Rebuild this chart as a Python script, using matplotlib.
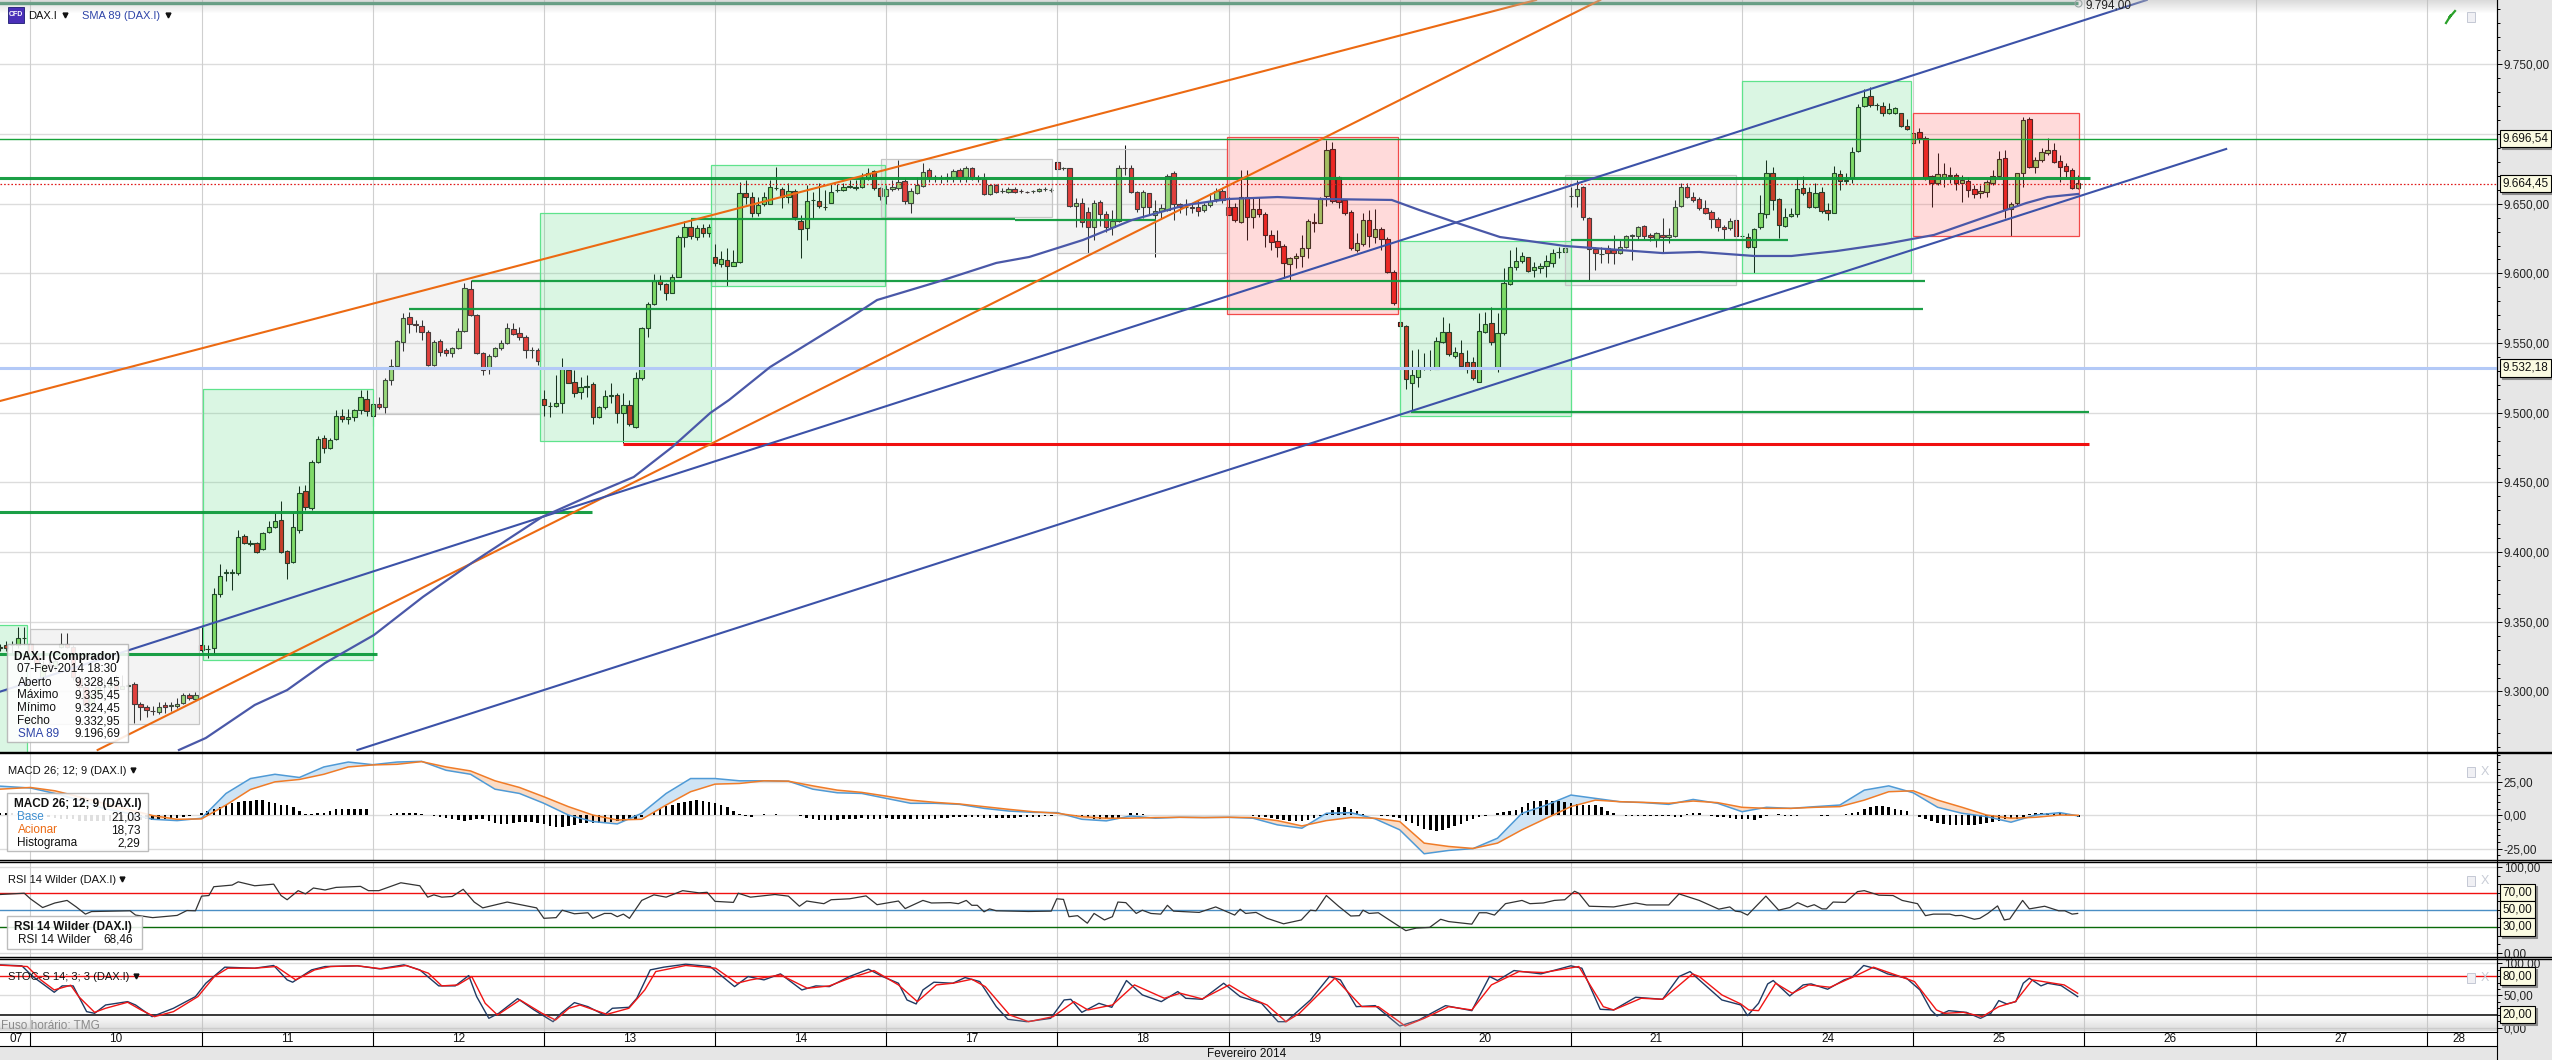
#!/usr/bin/env python3
"""DAX.I 30 min chart with MACD, RSI and stochastic panels."""

import numpy as np
import matplotlib
matplotlib.use("Agg")
import matplotlib.pyplot as plt
from matplotlib.lines import Line2D
from matplotlib.patches import Rectangle

W, H = 2552, 1060
AXIS_X = 2496.7
BAR_PX = 6.113
FIRST_DAY_PX = 30.4

# candles per day: (open, close, high, low)
day_07 = [(9332, 9331, 9334, 9329), (9333, 9331, 9336, 9329), (9333, 9333.5, 9336, 9327), (9333, 9338, 9346, 9331), (9338, 9338.5, 9346, 9333)]
day_10 = [(9334, 9327, 9336.8, 9325), (9327, 9320, 9330, 9318), (9310, 9320, 9322.5, 9308), (9320, 9318, 9323, 9315), (9318, 9322, 9325, 9315),
          (9332, 9334, 9342, 9331), (9334, 9332, 9342, 9331), (9332, 9310.5, 9333, 9308), (9310, 9303, 9311.7, 9301), (9303, 9290, 9304.5, 9289),
          (9290, 9298, 9299.5, 9288), (9298, 9303, 9304, 9296), (9303, 9303.5, 9309, 9298.6), (9303, 9305, 9310.5, 9301), (9305, 9302, 9311.7, 9299.8),
          (9302, 9304, 9311.7, 9303.3), (9304, 9304.5, 9305.7, 9303.8), (9305, 9291, 9307, 9277), (9291, 9288.5, 9292.6, 9279.4), (9288.5, 9286.6, 9290, 9281.8),
          (9286, 9285.8, 9289.5, 9283), (9285.4, 9289, 9292.6, 9283.7), (9290, 9288.5, 9292.6, 9284.2), (9289.7, 9290, 9292.6, 9286), (9289.5, 9291, 9295, 9287.8),
          (9291.5, 9297.4, 9298.6, 9291), (9297.4, 9295, 9298.6, 9293.8), (9294.3, 9297.4, 9299.8, 9293.3)]
day_11 = [(9333.3, 9329.7, 9346, 9328), (9330.4, 9330.4, 9333, 9324), (9331, 9369.7, 9374, 9327), (9369.7, 9383, 9391.4, 9368), (9385, 9385.5, 9388, 9379),
          (9385, 9385.5, 9387.6, 9372.8), (9384.7, 9410.6, 9415.8, 9383.5), (9411.5, 9406.2, 9412.7, 9405.8), (9406, 9406.5, 9408.6, 9404.3), (9406.2, 9400.3, 9407.4, 9399.5),
          (9402, 9413.4, 9414.6, 9401.5), (9414.1, 9418.2, 9422.5, 9413.4), (9418.2, 9422.5, 9427.8, 9417), (9423, 9400.3, 9436.6, 9399.5), (9400.7, 9391.9, 9401.5, 9381),
          (9392.6, 9417.7, 9427.8, 9391.9), (9415.8, 9442.6, 9447.4, 9413.4), (9444, 9432.6, 9448, 9430), (9431.4, 9464.8, 9466, 9430), (9464.4, 9480.9, 9483.3, 9463.6),
          (9481.6, 9474.4, 9484, 9470.8), (9474.4, 9480.4, 9481.6, 9473.7), (9480.9, 9497.9, 9501.9, 9480.4), (9497.9, 9495.2, 9503, 9493.5), (9495.2, 9497.1, 9503, 9491.9),
          (9497.1, 9501.9, 9503, 9494), (9501.9, 9511, 9516.3, 9499), (9510, 9501.4, 9516, 9497.6)]
day_12 = [(9497.6, 9506.2, 9509, 9490.4), (9506.2, 9503.8, 9511.5, 9502.4), (9503.8, 9523.5, 9524.7, 9500), (9523.5, 9533.5, 9538.3, 9520), (9533.5, 9551.7, 9552, 9533),
          (9551, 9567.8, 9571.8, 9544.6), (9568.5, 9563.7, 9572.5, 9557.5), (9563.7, 9563, 9566.6, 9558), (9562.5, 9557.7, 9566.6, 9552.2), (9557.7, 9534.3, 9559.4, 9533.5),
          (9534.3, 9551, 9552.2, 9533.8), (9551.5, 9543.8, 9552.7, 9540.7), (9545, 9543, 9546.2, 9540.7), (9543, 9546.2, 9547.4, 9540.2), (9546.2, 9558.4, 9560.6, 9545.5),
          (9558.9, 9589.3, 9593.4, 9558.2), (9588.6, 9570.2, 9595.3, 9569.4), (9570.2, 9542.6, 9570.9, 9542.2), (9543, 9530.7, 9543.8, 9527), (9531.4, 9541, 9542.2, 9527.8),
          (9541, 9546.2, 9547.4, 9540.2), (9546.2, 9549.8, 9552.2, 9545), (9549.8, 9560.6, 9564.7, 9549.3), (9560.1, 9556.3, 9564.2, 9555.8), (9557, 9554.6, 9561.8, 9552.2),
          (9554.6, 9545, 9555.8, 9539), (9545, 9545.3, 9547.4, 9539), (9545, 9537.4, 9546.2, 9534.3)]
day_13 = [(9510, 9505.5, 9516, 9498), (9505, 9505, 9508, 9496.7), (9504.8, 9507.2, 9527, 9504.3), (9507, 9531.2, 9539, 9500), (9530.7, 9521.6, 9532, 9521),
          (9522.3, 9514.5, 9530.7, 9511.5), (9515.2, 9518.2, 9526, 9510), (9518.6, 9519, 9527, 9511.5), (9520.4, 9497.1, 9522.3, 9491.9), (9497.1, 9503.8, 9505, 9496),
          (9503.8, 9512, 9516.3, 9502.4), (9512.3, 9512.5, 9521, 9506.7), (9512.8, 9499.5, 9514, 9492.8), (9500, 9505.5, 9514.4, 9478), (9505.5, 9491.9, 9509, 9490.4),
          (9490, 9524.7, 9529.5, 9488.8), (9524.7, 9560.6, 9561.8, 9523.5), (9560.6, 9577.8, 9579.7, 9554.6), (9577.8, 9594.8, 9599.6, 9577.4), (9595.3, 9592.2, 9598.9, 9588.2),
          (9592.2, 9586.2, 9593, 9581), (9586.2, 9597.2, 9599.6, 9585.7), (9597.7, 9626, 9627.6, 9597.2), (9626, 9633, 9637.8, 9619), (9633, 9626.9, 9638.8, 9624.5),
          (9626.4, 9632.4, 9634.7, 9624), (9632.4, 9628.8, 9635.5, 9626), (9628.8, 9633.6, 9635.5, 9626)]
day_14 = [(9612, 9607.7, 9621, 9605), (9607, 9610, 9616.3, 9604.3), (9609.6, 9605.6, 9618, 9591), (9605.6, 9608, 9617, 9605.5), (9608.4, 9658, 9665.3, 9607.2),
          (9658, 9655, 9667, 9650), (9655, 9643, 9658.7, 9640.7), (9643, 9649, 9655, 9641), (9650, 9655, 9658.7, 9648.4), (9650, 9661.8, 9667, 9649.8),
          (9661.5, 9661.5, 9676.6, 9660), (9660.3, 9655, 9662, 9646.7), (9655, 9659.4, 9664.6, 9650.3), (9659.4, 9640.2, 9660.3, 9638.3), (9637.6, 9631.6, 9642, 9610.8),
          (9632.4, 9651.7, 9663.4, 9624), (9652.7, 9652.7, 9658.7, 9639.5), (9652.2, 9648.6, 9664.6, 9646.7), (9648, 9647.5, 9659.9, 9645.5), (9650.8, 9658.7, 9664, 9650.3),
          (9659.6, 9660, 9664, 9658.7), (9660, 9661.8, 9665, 9659.4), (9661.8, 9662.8, 9667, 9661), (9661.6, 9661.7, 9667, 9659.8), (9662.3, 9668.3, 9672, 9661),
          (9668.3, 9672.3, 9675.4, 9667), (9673.5, 9661, 9674.3, 9660), (9661, 9655.6, 9661.7, 9652.7)]
day_17 = [(9655.3, 9660.3, 9663.4, 9650), (9660.3, 9661.7, 9667, 9659.3), (9661, 9665.8, 9681.3, 9659.8), (9666.3, 9652.2, 9668.2, 9649.8), (9650.2, 9659.3, 9661, 9643),
          (9657.9, 9663.2, 9669.4, 9657), (9662.7, 9673, 9679, 9661.7), (9674.2, 9668.9, 9675.4, 9665.8), (9669, 9669, 9670.6, 9665.8), (9668.8, 9668.7, 9670.6, 9664.6),
          (9668.8, 9669.2, 9672.3, 9665.8), (9669.4, 9673.4, 9674.6, 9665.8), (9674.2, 9669.4, 9675.4, 9665.8), (9668.9, 9675.8, 9677, 9665.8), (9675.4, 9668.9, 9676.6, 9667),
          (9668.2, 9668, 9670.6, 9665.8), (9667.5, 9657, 9671.8, 9656.2), (9657, 9663.2, 9664.1, 9656.2), (9663.2, 9658.6, 9664.1, 9657.9), (9659.3, 9659.3, 9661, 9657.4),
          (9658.6, 9660.3, 9661.7, 9657.9), (9660.3, 9658.6, 9661.7, 9657.4), (9659.1, 9659, 9660.3, 9657.9), (9658.7, 9658.6, 9659.3, 9657.9), (9658.8, 9658.9, 9659.8, 9657.9),
          (9658.9, 9660.3, 9661, 9658.4), (9660.3, 9660.4, 9661.7, 9659.3), (9659.6, 9659.6, 9661, 9658.4)]
day_18 = [(9679.7, 9674.9, 9680.1, 9674.2), (9675.4, 9675.4, 9676.6, 9674.2), (9675.4, 9648.6, 9675.8, 9647.9), (9648.6, 9650.2, 9653.8, 9633.5), (9650.2, 9637.1, 9653.8, 9633),
          (9643.8, 9633.5, 9647.9, 9614.8), (9633.5, 9650.2, 9652.6, 9623.9), (9651.2, 9642.6, 9652.6, 9634), (9642.6, 9633.5, 9645, 9629.9), (9633.5, 9637.8, 9645.5, 9627.5),
          (9637.8, 9675.4, 9677.8, 9637.1), (9675.9, 9675.5, 9692, 9670.6), (9675.4, 9658.6, 9677.8, 9657.4), (9658.1, 9646.2, 9659.3, 9644.3), (9647.4, 9658.1, 9659.8, 9639.5),
          (9657.4, 9647.4, 9657.9, 9641.9), (9641.9, 9645, 9652.6, 9611.5), (9645, 9647, 9650, 9640), (9645.5, 9669.9, 9671.3, 9645), (9671.8, 9649.8, 9673.4, 9638.3),
          (9649.8, 9647.4, 9650.7, 9643), (9647.9, 9647.9, 9653.1, 9641.9), (9647.4, 9647, 9650.2, 9643), (9647.4, 9645, 9652.6, 9641.2), (9645.5, 9648.8, 9650.2, 9644.3),
          (9648.8, 9652.2, 9657.4, 9647.4), (9653.1, 9659.3, 9661, 9651.4), (9659.1, 9652.6, 9661, 9650.2)]
day_19 = [(9647.9, 9641.9, 9655, 9641.9), (9647.4, 9638.3, 9650.2, 9637.1), (9637.1, 9655, 9674, 9635.9), (9655, 9640.7, 9674, 9624), (9640.7, 9646, 9655, 9632.3),
          (9646, 9642.4, 9655, 9640.2), (9642.4, 9627.5, 9644.3, 9619), (9627.5, 9622.8, 9631.1, 9616.8), (9623.2, 9619.1, 9631.1, 9612), (9620, 9607.7, 9621, 9596.4),
          (9606.7, 9610.8, 9612, 9595), (9610.8, 9612.5, 9614.4, 9603.6), (9612.7, 9617.9, 9627.5, 9604.8), (9617.9, 9637.8, 9638.8, 9610.8), (9637.1, 9635.9, 9643, 9629.9),
          (9636.4, 9654.3, 9655, 9635.9), (9655.7, 9688.3, 9696, 9648.3), (9689, 9651.9, 9694.5, 9650.2), (9668.9, 9651.4, 9669.9, 9646.7), (9652.6, 9643, 9653.6, 9641.9),
          (9643.8, 9617.9, 9645.5, 9616.8), (9616.8, 9621.5, 9628.7, 9615.6), (9621, 9638.3, 9643, 9619.6), (9638.3, 9627, 9645.5, 9619.1), (9626.3, 9631.6, 9646, 9621.5),
          (9631.6, 9624.4, 9633.5, 9616.8), (9624.4, 9601.2, 9626.3, 9600.5), (9601.2, 9579, 9602.4, 9577.3)]
day_20 = [(9565, 9562.5, 9566, 9561.7), (9562.5, 9524, 9562.9, 9516.8), (9521.6, 9527, 9545, 9502), (9525.9, 9533, 9545.5, 9518.7), (9531.8, 9532, 9542.6, 9530.7),
          (9532, 9531.8, 9545, 9530.7), (9531.6, 9551.7, 9554.6, 9531.1), (9551, 9558.2, 9568.9, 9549.8), (9558.2, 9541.9, 9564.1, 9540.7), (9540.7, 9543.3, 9547.4, 9539),
          (9542.6, 9533.8, 9552.2, 9531.8), (9536.6, 9531.1, 9545, 9528.3), (9536.6, 9524.7, 9540.2, 9523.5), (9522.3, 9558.9, 9571.3, 9522.3), (9558.2, 9563.7, 9572.5, 9557),
          (9564.1, 9551, 9576, 9548.6), (9533, 9557, 9571.3, 9529.4), (9557, 9592.8, 9603.6, 9555.8), (9592.4, 9604.3, 9616.8, 9591.6), (9604.3, 9609.1, 9619.1, 9602.4),
          (9609.1, 9612.5, 9615.6, 9607.2), (9611.5, 9601.9, 9612, 9601.2), (9602.4, 9604.3, 9608.4, 9597.6), (9603.6, 9605.5, 9607.2, 9600), (9605.5, 9608.6, 9613.2, 9597.6),
          (9607.7, 9614.8, 9617.2, 9604.8), (9615.6, 9615.6, 9619.1, 9610.8), (9615.6, 9618, 9623.9, 9614.4)]
day_21 = [(9655.5, 9655.5, 9662.2, 9647.4), (9655.5, 9660.3, 9667, 9647.9), (9661.7, 9640.7, 9662.7, 9638.3), (9639.5, 9617.2, 9640.7, 9595), (9617.2, 9614.4, 9619.1, 9602.4),
          (9614.2, 9614.2, 9618.7, 9607.2), (9618, 9614.8, 9620.3, 9607.2), (9616.8, 9614.8, 9627.5, 9606.7), (9614.4, 9619.2, 9623.9, 9613.9), (9619.2, 9626.8, 9627.5, 9618),
          (9626.8, 9627.5, 9628, 9609.6), (9626.8, 9633.5, 9634, 9623.9), (9634, 9626.8, 9634.7, 9624.4), (9627.5, 9625.8, 9628.7, 9623.4), (9625, 9628.7, 9629.9, 9619.1),
          (9627.5, 9625.8, 9639.5, 9615.6), (9625.8, 9627.5, 9632.3, 9622), (9627, 9647.9, 9652.6, 9626.3), (9648.3, 9661.7, 9664.6, 9647.4), (9661.7, 9655, 9664.6, 9653.8),
          (9655, 9652.6, 9658.6, 9651.4), (9653.1, 9646.7, 9655, 9645.5), (9646.7, 9643.6, 9652.7, 9642.6), (9644, 9638.8, 9645.5, 9632.3), (9638.8, 9633.5, 9640.7, 9630.7),
          (9633, 9631.6, 9634.7, 9624.5), (9632.4, 9637.6, 9639.5, 9631.2), (9638.3, 9626.8, 9639.5, 9625.2)]
day_24 = [(9626.8, 9626.8, 9628, 9625.9), (9625.9, 9619.2, 9628.8, 9618), (9619.2, 9631.6, 9632.3, 9600.5), (9633, 9643, 9656, 9631.6), (9642.4, 9671.8, 9681.4, 9639.5),
          (9671.8, 9652.7, 9676.6, 9645.5), (9653.2, 9634.7, 9653.9, 9625.2), (9634, 9640.7, 9646.7, 9633.5), (9641.2, 9642.6, 9646.7, 9640.2), (9642.6, 9660.3, 9668.2, 9640.7),
          (9661, 9657.9, 9669.9, 9656.3), (9658.2, 9647.4, 9662.2, 9646.7), (9647.4, 9657.4, 9664.6, 9646.7), (9658.2, 9645, 9662.2, 9643), (9645.5, 9643.6, 9650.3, 9638.3),
          (9643.6, 9671.8, 9677.1, 9643), (9671.3, 9666.6, 9674.2, 9659.9), (9666.6, 9667, 9672, 9664), (9668.2, 9687.4, 9691, 9665.1), (9688, 9719.2, 9721.6, 9687.4),
          (9720.1, 9726.8, 9732, 9719.7), (9727.5, 9720.9, 9733.5, 9719.7), (9720.9, 9720.5, 9722.5, 9717.3), (9720.4, 9714.9, 9723.2, 9713), (9714.9, 9717.7, 9722.5, 9714.4),
          (9715.3, 9718.5, 9719.2, 9714.4), (9714.9, 9706, 9715.4, 9705.3), (9705.8, 9703.6, 9710.6, 9702.9)]
day_25 = [(9693.3, 9701, 9710, 9692.6), (9701.2, 9697.4, 9704.1, 9693.3), (9696.9, 9668.2, 9698.6, 9667), (9669.9, 9665, 9670.6, 9648), (9665.1, 9671.3, 9686.2, 9663.4),
          (9669.5, 9671, 9679, 9662.2), (9670, 9670.5, 9676.6, 9664.6), (9670.6, 9665, 9671.8, 9659.9), (9664.6, 9667, 9670.6, 9651.5), (9666.3, 9659.9, 9669.4, 9655.1),
          (9660.6, 9657, 9663.4, 9653.9), (9657.5, 9659.1, 9663.4, 9653.9), (9658.7, 9665.8, 9667, 9655.1), (9664.6, 9670.1, 9674.2, 9663.4), (9670.1, 9681.9, 9688.1, 9669.4),
          (9682.6, 9646, 9688.6, 9639.5), (9646, 9649.8, 9651.5, 9626.8), (9650.3, 9671.8, 9672.3, 9649.1), (9672.3, 9710.1, 9712, 9662.3), (9710.6, 9676.6, 9712, 9675.4),
          (9676.6, 9681.4, 9683.8, 9671.8), (9681.4, 9686.9, 9689.8, 9680.2), (9686.2, 9688.6, 9697, 9685), (9688.6, 9680.2, 9693.3, 9679.5), (9680.4, 9676.6, 9685, 9665.8),
          (9677, 9673.7, 9679, 9669.4), (9674.2, 9661.5, 9675.4, 9660.3), (9661.5, 9664.6, 9670.6, 9660.3)]

# SMA 89 read at bar numbers
sma_bars = [24.3, 28.7, 36.7, 42, 48.2, 56.2, 64.2, 72.2, 83.7, 92.5, 98.7, 105, 111.2, 114.3, 121, 134, 138.5, 148.3, 158, 163.4, 172.2, 180.2, 189, 196, 204, 211.1, 222.7, 227.2, 233.4, 240.4, 251, 260, 267, 273, 282, 288.1, 295.4, 303.4, 311.4, 319.4, 326.5, 330, 335]
sma_vals = [9258, 9266.6, 9290.3, 9301, 9320.4, 9340.5, 9367.8, 9392.2, 9425.2, 9442.4, 9453.9, 9475.4, 9499.8, 9509.2, 9532.8, 9568, 9580.9, 9593.8, 9607.5, 9611.8, 9624, 9638.3, 9649.1, 9653.4, 9654.8, 9653.4, 9652.7, 9645.5, 9636.2, 9626.1, 9619.7, 9616.8, 9614.6, 9615.4, 9612.5, 9612.5, 9616, 9621.1, 9627.6, 9639.8, 9650.5, 9654.8, 9657]

# horizontal levels: price, first bar, last bar
green_thick = [(9668.2, -6, 337), (9428.5, -6, 91.9), (9326.6, -6, 56.7)]
green_mid = [(9639, 108, 161), (9638, 161, 184.1), (9594.8, 72.2, 310), (9574.4, 62, 309.6), (9624, 252, 287.6), (9500.5, 225.8, 336.7)]
red_level = (9477.3, 97, 336.7)
top_level = (9794, -6, 335)
last_bid = 9664.45
green_thin = 9696.54
blue_level = 9532.18

# trend lines: (bar, price) at both ends
orange_lines = [((-5, 9508.4), (246.3, 9796.2)), ((11, 9258), (256.8, 9796.2))]
blue_lines = [((-5, 9299.8), (346.2, 9796.2)), ((53.5, 9258), (359.2, 9689.3))]

# boxes: first bar, last bar, price low, price high
green_boxes = [(-6, -0.6, 9250, 9347.4), (28.3, 56.1, 9322.3, 9516.8), (83.3, 111.3, 9480, 9643), (111.3, 139.8, 9591, 9677.8), (224, 252, 9498, 9623), (280, 307.7, 9600, 9737.8)]
grey_boxes = [(-0.1, 27.65, 9276.4, 9344.5), (56.5, 83.3, 9499, 9600), (139.2, 167.2, 9640.2, 9681.8), (168, 195.7, 9614.4, 9689), (251, 279, 9592, 9670.3)]
red_boxes = [(195.8, 223.8, 9570.6, 9697.6), (308, 335.1, 9626.6, 9714.9)]

macd_bars = [-5, 0, 4, 8, 12, 16, 20, 24, 28, 32, 36, 40, 44, 48, 52, 56, 60, 64, 68, 72, 76, 80, 84, 88, 92, 96, 100, 104, 108, 112, 116, 120, 124, 128, 132, 136, 140, 144, 148, 152, 156, 160, 164, 168, 172, 176, 180, 184, 188, 192, 196, 200, 204, 208, 212, 216, 220, 224, 228, 232, 236, 240, 244, 248, 252, 256, 260, 264, 268, 272, 276, 280, 284, 288, 292, 296, 300, 304, 308, 312, 316, 320, 324, 328, 332, 335]
macd_base = [21.9, 20.5, 16.4, 11.4, 5.2, 1.5, -3, -4, -2.2, 16.4, 27.6, 30.8, 28.4, 36.3, 40, 38, 40, 40.5, 33.8, 30.8, 19.6, 16.4, 9, 0.2, -4.7, -6.5, 1.5, 16.4, 27.6, 27.6, 25.9, 25.9, 25.6, 19.6, 16.9, 16.4, 12.7, 9, 9, 8.2, 5.2, 3.2, 2.2, 2, -3, -4.2, -0.5, -2.2, -1.5, -1.7, -1.5, -2.2, -7.2, -9.7, 1.5, 2, -2.7, -10.9, -28.9, -26.4, -25, -17.2, 1.5, 7.7, 15.2, 12.7, 10.2, 9.5, 8.2, 11.9, 9, 2.7, 6, 5.2, 6.5, 7.7, 18.9, 22.1, 16.9, 6, 1.5, -1, -5.2, 0.2, 2, -0.5]
macd_signal = [19.6, 20.9, 18.4, 13.9, 9, 4.5, -0.2, -3, -2.7, 7.7, 19.4, 25.1, 26.9, 30.8, 36.3, 37.8, 38.3, 40.3, 36.3, 33.3, 25.9, 20.9, 13.9, 6.5, 0.2, -3.5, -3, 7.7, 17.7, 23.4, 23.9, 25.9, 25.6, 22.1, 18.9, 17.2, 14.4, 11.4, 9.7, 8.5, 6.5, 4.5, 2.7, 1.5, -1, -2.2, -2.2, -1.7, -1.5, -1.7, -1.5, -1.7, -4, -8, -4, -1.7, -2.2, -4.7, -20.9, -23.4, -24.9, -20.9, -10.9, -2.2, 6.5, 11.4, 10.2, 9.7, 9, 10.7, 9.5, 6, 5.2, 5.2, 6, 6.5, 11.4, 17.7, 18.4, 11.4, 6, 0.2, -2.2, -1.5, 0.2, 0]
macd_hist = [2, 2, 2, 1.5, 2,
             1, 0.5, 0, -1, -2, -3, -3, -3, -4, -4, -4, -4, -4.5, -4.5, -4.5, -4, -4, -4, -3.5, -3, -3.5, -3.5, -3, -2.5, -2, -1, -0.5, 0.5,
             2, 3, 5, 6, 8, 9, 10, 10.5, 11, 11.5, 11.5, 10, 9, 8, 7.5, 6, 3, 1, 1, 1.5, 2, 3, 4.5, 5, 5, 5, 5, 4.5,
             0, 0.3, 0.5, 1, 1.5, 2, 2, 1.5, 1, 0.5, -0.5, -1, -2, -3, -3.5, -4, -3.5, -3, -3, -4.5, -5.5, -6.5, -6.5, -6, -5, -5, -5, -5.5,
             -6.5, -8, -9, -9, -8, -7, -6, -6, -5.5, -5.5, -5, -5, -4.5, -4, -3.5, -3, -1.5, 0.5, 2.5, 5, 7, 8, 9, 10, 11, 11.5, 10.5, 10,
             9, 8, 6, 3, 1, -0.5, -1, 0, 1, 0.5, 1, 0.5, 0.5, 0, -0.5, -2, -3, -3.5, -3.5, -3.5, -3.5, -3, -2.5, -2.5, -2, -2.5, -2.5, -2.5,
             -2, -2.5, -2.5, -3, -3, -3, -3, -2.5, -2.5, -2, -2, -1.5, -1.5, -1.5, -1, -1.5, -2, -2, -2, -2, -2, -2, -1.5, -1.5, -1, -1, -0.5, -0.5,
             0, 0.5, 0.5, -0.5, -1, -1.5, -2.5, -3, -3, -3, -3, 0, 1.5, 1.5, 1, 0.5, 0, 0.5, 0.5, 0, 0, 0, 0, 0, 0, 0, 0.5, 0.5,
             0, 0, 0.5, 0, -0.5, -1, -1.5, -2, -3, -3.5, -4, -4, -4, -3.5, -2, -0.5, 1, 4, 6, 6, 4.5, 3.5, 1, 0.5, 0, -0.5, -0.5, -1,
             -2, -4, -6, -8, -10.5, -11, -12, -11, -9.5, -8, -6.5, -4.5, -3, -1.5, -0.5, 0.5, 1.5, 2.5, 3.5, 4, 6, 9.5, 10.5, 11, 11.5, 11, 10.5, 10,
             9.5, 8.5, 8, 8, 8, 6, 3, 1.5, 0.5, -0.5, -0.7, -0.7, -0.7, -0.7, -0.7, -0.7, -0.7, -1, -1, 1, 1.5, 1.5, 0, -0.5, -1.5, -1.5, -2, -2.5,
             -2.5, -3, -3.5, -2, -0.5, 0.5, 1, -0.5, -0.5, -0.5, 0, 0.5, 0, -0.5, -0.5, 0, 0.5, 1, 1.5, 2.5, 5, 6, 7, 7, 6, 5, 4, 3,
             0.5, -1, -2.5, -4, -6, -6.5, -7, -7, -7, -7, -7, -6.5, -6, -5, -4, -3, -2, -3, -1, 1, 1.5, 1.5, 1.5, 1.5, 1.5, 1, 0.5, -1]

rsi_bars = [-5, -1, 0, 2, 4, 6, 7.5, 9, 10, 16.3, 17.2, 20, 24, 25.6, 27, 28, 29.2, 30, 33, 34, 36.7, 39.8, 41, 42, 43.8, 45, 46.3, 48.2, 50, 54, 55.3, 57, 60.6, 63.7, 65, 66, 67.3, 69, 70.8, 72.6, 74, 78, 82.8, 84, 86, 87, 89, 91.2, 92, 93.9, 95, 96, 97, 98, 100, 102, 104, 106.7, 109.4, 110.7, 112, 115, 115.8, 117.8, 121.8, 124, 125.8, 127, 129.8, 131, 134,
            136.7, 138.5, 142, 143.1, 146, 147.4, 150.5, 151.8, 153.1, 154, 154.9, 156, 156.9, 158, 163.3, 167, 167.9, 169, 169.9, 171.3, 172.9, 174, 175.7, 177, 177.9, 179.2, 180.9, 181.9, 183.3, 184.9, 186, 187, 191.2, 193.9, 197, 197.9, 198.8, 200.5, 202.3, 205, 207.9, 209.4, 210.3, 212, 214, 216, 217.4, 218, 219, 220.5, 222.7, 225, 226.7, 228.9, 230.7, 232, 235.8, 237, 238.2, 239.5, 241.3, 244, 245.3, 247.5, 249.3, 251, 252.6, 253.3, 255, 259, 262.6, 264.4, 268, 269.7, 273,
            276.2, 278, 278.9, 279.8, 280.9, 283.9, 286, 287.8, 289.1, 290.7, 291.8, 293.1, 293.8, 294.9, 296.9, 298.9, 300, 302.4, 304.7, 306.2, 308.7, 310, 311.3, 314, 314.9, 315.9, 318, 318.9, 320.2, 321.8, 322.9, 323.8, 325.9, 327, 329.5, 331.8, 332.8, 334, 334.9]
rsi_vals = [67.9, 69.4, 62.9, 52.7, 58, 61, 53.4, 45, 48, 48.9, 43.9, 40.9, 43.5, 49.2, 48.9, 66, 66.7, 77, 78.9, 82.7, 78.1, 80, 66.7, 61.8, 72.4, 68.6, 75.5, 73.2, 76.2, 77.4, 72.4, 72.4, 81.6, 78.1, 64.8, 67.5, 64.8, 65.6, 74, 59.1, 52.3, 59.1, 52.3, 40.1, 40.9, 49.6, 45.4, 46.6, 40.1, 45.8, 45.8, 42, 45, 40.1, 61, 67.5, 64.8, 72.4, 69.8, 70.5, 59.9, 58.7, 69.4, 64.8, 67.9, 66, 54.2, 60.3, 57.2, 61.8, 62.9,
            66.3, 56, 60.3, 51.5, 61, 58, 58.4, 57.2, 61, 55.3, 55.3, 47.7, 51.1, 48.9, 48.1, 48.5, 62.9, 62.2, 42, 43.2, 34.4, 45.8, 38.2, 42, 59.1, 58.4, 45.8, 49.6, 45.8, 45, 55.3, 48.5, 47, 53.4, 43.9, 50.8, 45.8, 47, 40.1, 33.7, 38.2, 49.6, 48.9, 66.7, 54.2, 42.8, 43.2, 49.6, 45.8, 46.6, 36.3, 25.7, 28.7, 29.5, 39, 36.3, 33.3, 46.6, 46.6, 43.9, 57.2, 61, 57.2, 58, 61, 61.8, 71.7, 69.4, 54.2, 53.4, 58, 55.7, 55.7, 68.6, 61,
            50.8, 53.4, 48.5, 47.7, 43.9, 66, 49.6, 52.7, 58.4, 53.4, 56, 51.1, 51.1, 59.1, 58.7, 71.3, 72.4, 67.1, 66.7, 61, 57.2, 43.2, 45, 45, 43.2, 43.5, 39, 40.1, 45.8, 54.6, 38.2, 39.4, 61, 51.1, 54.2, 48.9, 48.9, 45, 45.8]

stoch_k_bars = [-5, -1.4, 0.4, 3.9, 5.2, 7, 9.2, 10.5, 12.3, 15.9, 17.2, 19.9, 23.4, 27, 28.7, 31.8, 36.7, 39.8, 42, 42.9, 46, 48.2, 53.5, 57.1, 61.1, 63.7, 66.8, 69.5, 71.7, 73, 75, 76.6, 79.7, 82.4, 85.5, 86.8, 89, 91.2, 93.9, 95.2, 97.9, 99.2, 101.4, 103.6, 107.2, 111.2, 115.2, 117.4, 120, 122.7, 126.2, 128.5, 130.7, 134,
                137.1, 139.4, 142, 143.4, 144.9, 146, 147.8, 150.9, 152.9, 155.3, 158, 159.9, 163, 166.9, 169.1, 170.2, 172, 174.8, 176.9, 179.3, 181.9, 185, 187.7, 189, 191.7, 195.2, 197.9, 201.4, 204.1, 205.4, 209.4, 212.5, 214.3, 216.9, 220, 224, 227.1, 231.5, 235.8, 238.7, 240, 242.7, 247.1, 252, 253.8, 256.8, 259, 262.6, 267, 269.7, 271.5, 273,
                276.7, 279.8, 280.9, 282.7, 284.2, 285.1, 287.8, 290, 291.3, 294, 296.7, 298, 299.9, 302, 303.8, 306.9, 309.1, 310.9, 311.9, 313.8, 316.7, 319, 320.7, 322, 323.3, 324.8, 326, 327, 328.9, 330, 332.2, 334.9]
stoch_k_vals = [97.4, 95.9, 79.3, 54.9, 64.8, 64.8, 24.9, 22.3, 35.2, 40.4, 35.2, 17.1, 30.1, 48.2, 68.9, 93.8, 92.2, 96.4, 74.1, 70.5, 89.6, 94.8, 95.9, 91.2, 97.4, 89.6, 64.8, 64.8, 80.8, 48.2, 14.5, 22.3, 45.1, 27.5, 9.3, 22.3, 38.9, 32.6, 19.7, 30.1, 31.6, 45.6, 89.6, 93.8, 98.4, 94.8, 63.7, 79.3, 74.1, 83.4, 58.5, 64.8, 63.7, 79.3,
                90.7, 79.3, 68.9, 43, 36.8, 58.5, 70.5, 68.9, 77.7, 71.5, 32.6, 13, 9.3, 14.5, 43, 44, 23.8, 37.8, 31.6, 73.1, 50.8, 40.4, 56, 45.6, 44, 68.9, 48.2, 37.8, 9.3, 9.3, 43, 79.3, 74.1, 32.6, 34.2, 2.6, 11.9, 34.2, 26.4, 79.3, 73.1, 88.6, 83.4, 95.9, 92.2, 28.5, 27.5, 47.2, 44, 79.3, 87, 74.1,
                43, 35.2, 18.7, 37.8, 67.9, 73.1, 49.2, 66.3, 67.9, 59.6, 74.1, 78.2, 96.4, 91.2, 83.4, 76.7, 58.5, 27.5, 18.1, 26.4, 23.8, 14.5, 22.3, 42, 36.8, 40.4, 68.9, 76.7, 64.8, 68.9, 65.3, 48.2]

stoch_d_bars = [-5, -0.5, 1.7, 3.9, 6.6, 7.9, 10.5, 12.3, 15.9, 18.1, 20.3, 23.4, 27.4, 30.1, 32.3, 36.7, 40.2, 43.4, 46.5, 49.1, 53.5, 57.5, 61.5, 65.1, 67.3, 69.9, 72.2, 74.4, 76.4, 80.1, 83.7, 85.9, 88.1, 89.9, 94.3, 97.9, 100.5, 102.3, 107.2, 112.1, 115.6, 117.8, 122.7, 127.1, 130.7, 134,
                138, 142, 145.1, 148.2, 150.9, 154, 156.2, 160.2, 163.3, 167.3, 170.7, 173, 177, 180.6, 185.5, 188.1, 191.7, 196.1, 199.7, 202.3, 205.4, 207.6, 213.4, 217.8, 220.5, 224.9, 228, 232, 235.8, 239, 243.5, 247.5, 253.3, 257.3, 259, 263.5, 267, 271.9, 273,
                276.7, 279.8, 281.1, 282.7, 285.5, 288.2, 290.9, 294.4, 298.9, 301.5, 305.1, 308.2, 311.8, 313.1, 316.2, 319.3, 322, 324.7, 327.5, 332.7, 334.9]
stoch_d_vals = [96.9, 94.8, 74.1, 58.5, 65.8, 48.2, 23.8, 30.1, 39.4, 27.5, 17.1, 24.9, 48.2, 79.3, 92.2, 92.2, 94.8, 74.1, 89.6, 94.8, 95.9, 91.2, 96.4, 84.5, 64.8, 66.3, 79.3, 37.8, 19.7, 43, 22.3, 11.9, 30.1, 35.2, 20.7, 30.1, 58.5, 87, 96.4, 92.2, 68.9, 74.1, 81.9, 61.1, 64.8, 76.7,
                88.6, 66.3, 40.4, 66.3, 68.9, 75.1, 63.7, 19.7, 9.3, 17.1, 40.4, 27.5, 35.2, 66.3, 45.6, 53.4, 44.6, 66.3, 45.6, 35.2, 9.3, 22.3, 76.7, 32.6, 32.6, 2.6, 14.5, 32.6, 27.5, 66.3, 87, 85.5, 94.8, 32.6, 27.5, 45.6, 44, 83.4, 79.3,
                50.8, 36.8, 27.5, 26.4, 68.9, 53.4, 66.3, 62.7, 81.9, 93.8, 81.9, 71.5, 27.5, 22.3, 23.8, 17.1, 32.6, 40.4, 74.1, 66.3, 53.4]

price_ticks = [9300, 9350, 9400, 9450, 9500, 9550, 9600, 9650, 9700, 9750]
# the 9.700,00 label sits under the 9.696,54 tag in the reference
price_labels = ["9.300,00", "9.350,00", "9.400,00", "9.450,00", "9.500,00", "9.550,00", "9.600,00", "9.650,00", "", "9.750,00"]
date_labels = ["07", "10", "11", "12", "13", "14", "17", "18", "19", "20", "21", "24", "25", "26", "27", "28"]
date_label_bars = [-2.4, 14, 42, 70, 98, 126, 154, 182, 210, 238, 266, 294, 322, 350, 378, 397.3]
day_starts = np.arange(0, 15) * 28

GREEN = "#0e9a3c"
GRID_H = "#dcdcdc"
GRID_V = "#cfcfcf"

plt.rcParams["font.family"] = ["Liberation Sans", "DejaVu Sans"]
plt.rcParams["font.size"] = 8.5

candles = np.array(day_07 + day_10 + day_11 + day_12 + day_13 + day_14 + day_17 + day_18 + day_19 + day_20 + day_21 + day_24 + day_25)
opens, closes, highs, lows = candles.T
bars = np.arange(len(candles)) - 5
assert len(macd_hist) == len(candles)


def px_axes(fig, top, bottom, right=AXIS_X):
    return fig.add_axes([0, 1 - bottom / H, right / W, (bottom - top) / H])


def style_panel(ax, ylim, ticks, labels, grid, minor_step):
    ax.set_xlim(-FIRST_DAY_PX / BAR_PX, (AXIS_X - FIRST_DAY_PX) / BAR_PX)
    ax.set_ylim(*ylim)
    for name in ("top", "left", "bottom"):
        ax.spines[name].set_visible(False)
    ax.spines["right"].set_color("black")
    ax.spines["right"].set_linewidth(0.8)
    ax.yaxis.tick_right()
    ax.set_yticks(ticks)
    ax.set_yticklabels(labels, fontsize=8.5, color="#222222")
    ax.set_yticks(np.arange(np.ceil(ylim[0] / minor_step) * minor_step, ylim[1], minor_step), minor=True)
    ax.tick_params(axis="y", which="major", length=3.6, width=0.7, pad=1.5)
    ax.tick_params(axis="y", which="minor", length=2, width=0.7)
    ax.set_xticks([])
    for g in grid:
        ax.axhline(g, color=GRID_H, lw=1.0, zorder=1)
    for d in day_starts:
        ax.axvline(d, color=GRID_V, lw=0.8, zorder=1)


def tag(ax, val, text):
    for off, tc, fc, ec, z in (((8, -2), "#8c8c8c", "#8c8c8c", "#8c8c8c", 19), ((6, 0), "#111111", "#fbfbe2", "black", 20)):
        ax.annotate(text, xy=(1, val), xycoords=ax.get_yaxis_transform(), xytext=off, textcoords="offset pixels",
                    ha="left", va="center", fontsize=8.5, color=tc, annotation_clip=False, zorder=z,
                    bbox=dict(boxstyle="square,pad=0.22", fc=fc, ec=ec, lw=0.8))


fig = plt.figure(figsize=(W / 100, H / 100), dpi=100, facecolor="#e6e6e6")

# main price panel
ax = px_axes(fig, 0, 751.5)
style_panel(ax, (9256.9, 9796.2), price_ticks, price_labels, price_ticks, 10)
up = closes >= opens
ax.vlines(bars, lows, highs, color="#111111", lw=0.75, zorder=3)
ax.bar(bars[up], (closes - opens)[up], bottom=opens[up], width=0.72, color="#8fdc68", edgecolor="#1d2d1d", lw=0.8, zorder=3.2)
ax.bar(bars[~up], (closes - opens)[~up], bottom=opens[~up], width=0.72, color="#e8201c", edgecolor="#2a1a1a", lw=0.8, zorder=3.2)

for boxes, fc, ec, alpha in ((grey_boxes, "#c4c4c4", "#c6c6c6", 0.2), (green_boxes, "#37d269", "#5fe38c", 0.18), (red_boxes, "#ff4a4a", "#f24a4a", 0.2)):
    for x0, x1, p0, p1 in boxes:
        ax.add_patch(Rectangle((x0, p0), x1 - x0, p1 - p0, fc=fc, ec="none", alpha=alpha, zorder=4))
        ax.add_patch(Rectangle((x0, p0), x1 - x0, p1 - p0, fc="none", ec=ec, lw=0.9, zorder=4.1))

ax.axhline(green_thin, color="#16a33a", lw=1.0, zorder=5)
ax.axhline(last_bid, color="#e01818", lw=0.9, ls=(0, (1.3, 1.6)), zorder=5)
ax.axhline(blue_level, color="#b3c9f7", lw=2.2, zorder=5)
for p, x0, x1 in green_thick:
    ax.hlines(p, x0, x1, color=GREEN, lw=2.2, zorder=5, alpha=0.95)
for p, x0, x1 in green_mid:
    ax.hlines(p, x0, x1, color=GREEN, lw=1.6, zorder=5, alpha=0.95)
ax.hlines(red_level[0], red_level[1], red_level[2], color="#f01010", lw=2.2, zorder=5)
ax.hlines(top_level[0], top_level[1], top_level[2], color="#3a9068", lw=2.4, zorder=5, clip_on=False)
ax.plot([top_level[2]], [top_level[0]], "o", ms=5, mfc="none", mec="#8a9a9a", mew=0.8, zorder=5, clip_on=False)
for (x0, p0), (x1, p1) in orange_lines:
    ax.plot([x0, x1], [p0, p1], color="#ec6a12", lw=1.5, zorder=6)
for (x0, p0), (x1, p1) in blue_lines:
    ax.plot([x0, x1], [p0, p1], color="#3c52a8", lw=1.5, zorder=6)
ax.plot(sma_bars, sma_vals, color="#4a58a8", lw=1.6, zorder=6)
tag(ax, green_thin, "9.696,54")
tag(ax, last_bid, "9.664,45")
tag(ax, blue_level, "9.532,18")

# MACD
ax_macd = px_axes(fig, 753.5, 860.3)
style_panel(ax_macd, (-33.8, 46.4), [-25, 0, 25], ["-25,00", "0,00", "25,00"], [-25, 0, 25], 5)
base = np.array(macd_base)
signal = np.array(macd_signal)
ax_macd.fill_between(macd_bars, base, signal, where=base >= signal, interpolate=True, color="#cfe4f5", lw=0, zorder=2)
ax_macd.fill_between(macd_bars, base, signal, where=base <= signal, interpolate=True, color="#fbdcc5", lw=0, zorder=2)
ax_macd.bar(bars, macd_hist, width=0.42, color="black", zorder=3)
ax_macd.plot(macd_bars, macd_base, color="#4f9ad6", lw=1.1, zorder=4)
ax_macd.plot(macd_bars, macd_signal, color="#f07c28", lw=1.1, zorder=4)

# RSI
ax_rsi = px_axes(fig, 862.3, 957.3)
style_panel(ax_rsi, (-5.4, 105.5), [0, 100], ["0,00", "100,00"], [0, 100], 10)
ax_rsi.axhline(70, color="#f01010", lw=1.0, zorder=3)
ax_rsi.axhline(50, color="#4a8ec4", lw=1.0, zorder=3)
ax_rsi.axhline(30, color="#0a6a0a", lw=1.0, zorder=3)
ax_rsi.plot(rsi_bars, rsi_vals, color="#333333", lw=0.9, zorder=4)
for v, t in ((70, "70,00"), (50, "50,00"), (30, "30,00")):
    tag(ax_rsi, v, t)

# stochastic
ax_sto = px_axes(fig, 959.3, 1031.7)
style_panel(ax_sto, (-6.2, 106), [0, 50, 100], ["0,00", "50,00", "100,00"], [0, 50, 100], 10)
ax_sto.axhline(80, color="#f01010", lw=1.0, zorder=3)
ax_sto.axhline(20, color="black", lw=1.1, zorder=3)
ax_sto.plot(stoch_k_bars, stoch_k_vals, color="#1f3a63", lw=1.0, zorder=4)
ax_sto.plot(stoch_d_bars, stoch_d_vals, color="#f01414", lw=1.0, zorder=5)
for v, t in ((80, "80,00"), (20, "20,00")):
    tag(ax_sto, v, t)

# date row
ax_date = px_axes(fig, 1031.7, 1046)
ax_date.set_xlim(ax.get_xlim())
ax_date.set_ylim(0, 1)
ax_date.set_xticks([])
ax_date.set_yticks([])
for s in ax_date.spines.values():
    s.set_visible(False)
ax_date.vlines(day_starts, 0, 1, color="black", lw=0.8)
for x, t in zip(date_label_bars, date_labels):
    ax_date.text(x, 0.47, t, ha="center", va="center", fontsize=8.5, color="#111111")

# overlay in figure pixels for the window furniture
ov = fig.add_axes([0, 0, 1, 1], zorder=50)
ov.patch.set_alpha(0)
ov.axis("off")

fade = np.zeros((16, 2, 4))
fade[..., :3] = 0.72
fade[:, :, 3] = np.linspace(0.5, 0, 16)[:, None]
ov.imshow(fade, extent=(0, AXIS_X, 14, 0), aspect="auto", zorder=1)
ov.imshow(fade[::-1], extent=(0, AXIS_X, 1031.5, 1015), aspect="auto", zorder=1)
ov.set_xlim(0, W)
ov.set_ylim(H, 0)


def rule(x0, x1, y, color="black", lw=0.8):
    ov.add_line(Line2D([x0, x1], [y, y], color=color, lw=lw, zorder=10))


for y in (751.6, 753.4, 860.4, 862.2, 957.4, 959.2):
    rule(0, W, y, lw=1.0)
rule(0, AXIS_X, 1031.7)
rule(0, AXIS_X, 1046)
ov.add_line(Line2D([AXIS_X, AXIS_X], [0, H], color="black", lw=0.8, zorder=10))


def label(x, y, text, ha="left", color="#111111", **kw):
    ov.text(x, y, text, ha=ha, va="center", color=color, fontsize=kw.pop("fontsize", 8.5), zorder=kw.pop("zorder", 12), **kw)


def tri(x, y):
    ov.plot([x], [y], marker="v", ms=3.5, color="#111111", zorder=12)


def tooltip(x0, y0, x1, y1):
    ov.add_patch(Rectangle((x0, y0), x1 - x0, y1 - y0, fc="white", ec="#b4b4b4", lw=1.0, alpha=0.88, zorder=11))


# header strip
ov.add_patch(Rectangle((8, 7), 16, 16, fc="#4a2fb8", ec="#1a1a70", lw=0.6, zorder=11))
label(16, 14, "CFD", ha="center", color="white", fontsize=5, fontweight="bold")
label(28, 15.7, "DAX.I", fontsize=8)
tri(65, 14.5)
label(82, 15.7, "SMA 89 (DAX.I)", color="#2f45a8", fontsize=8)
tri(168, 14.5)
label(2085, 6, "9.794,00", color="#222222")
ov.plot([2446, 2451, 2449, 2455], [23, 15, 18, 11], color="#2aa02a", lw=1.6, zorder=12)

# panel headers
label(7.5, 771, "MACD 26; 12; 9 (DAX.I)", fontsize=8)
tri(133, 770)
label(7.5, 880, "RSI 14 Wilder (DAX.I)", fontsize=8)
tri(122, 879)
label(7.5, 977, "STOC-S 14; 3; 3 (DAX.I)", fontsize=8)
tri(136, 976)
label(1, 1026, "Fuso horário: TMG", color="#8a8a8a")
label(1247, 1054, "Fevereiro 2014", ha="center")

# window icons on the panels
for y in (17, 771.7, 880.7, 977.7):
    ov.add_patch(Rectangle((2467, y - 5), 7.5, 10, fc="#f0f0f4", ec="#c4c8d4", lw=0.7, zorder=11))
for y in (771.7, 880.7, 977.7):
    label(2485, y, "X", ha="center", color="#c8ccd6", fontsize=9)

# hover boxes
tooltip(6.7, 644, 128, 742)
label(13.7, 656.7, "DAX.I (Comprador)", fontweight="bold")
label(16.7, 669.5, "07-Fev-2014 18:30")
for y, name, val, col in ((682.7, "Aberto", "9.328,45", "#111111"), (695.4, "Máximo", "9.335,45", "#111111"),
                          (708.3, "Mínimo", "9.324,45", "#111111"), (721, "Fecho", "9.332,95", "#111111"),
                          (734, "SMA 89", "9.196,69", "#2f45a8")):
    label(17.5, y, name, color=col)
    label(120, y, val, ha="right")

tooltip(6.5, 792.7, 148, 851)
label(13.5, 804, "MACD 26; 12; 9 (DAX.I)", fontweight="bold")
for y, name, val, col in ((817.3, "Base", "21,03", "#3f8fd0"), (830.3, "Acionar", "18,73", "#ec6a12"), (843.3, "Histograma", "2,29", "#111111")):
    label(17.5, y, name, color=col)
    label(140.5, y, val, ha="right")

tooltip(6.5, 915.7, 141.5, 948.7)
label(13.5, 926.7, "RSI 14 Wilder (DAX.I)", fontweight="bold")
label(17.5, 940, "RSI 14 Wilder")
label(133, 940, "68,46", ha="right")

fig.savefig("out.png", dpi=100, facecolor=fig.get_facecolor())
plt.close(fig)
